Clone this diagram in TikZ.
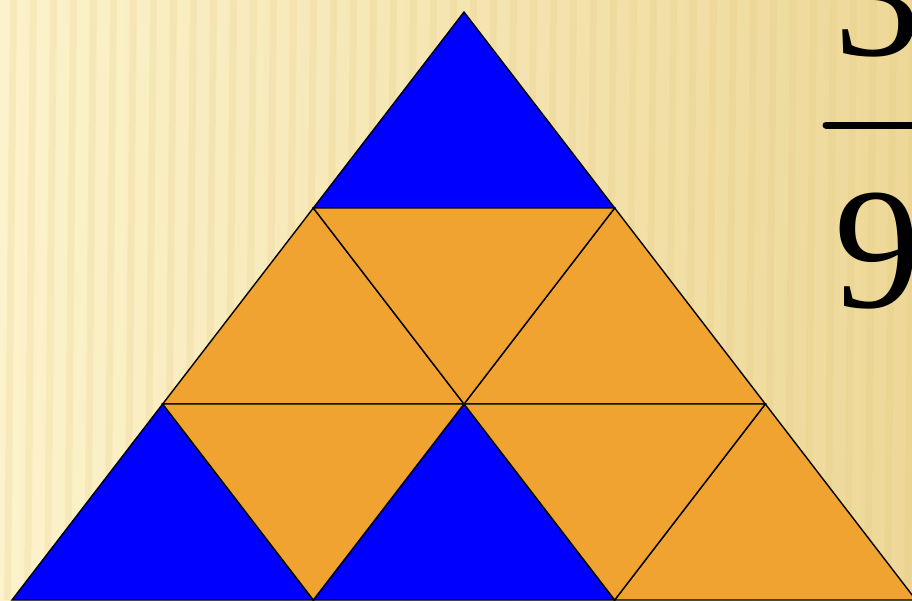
\documentclass[tikz,border=0pt]{standalone}
\usepackage{fontspec}
\setmainfont{Liberation Serif}
\definecolor{bgleft}{HTML}{FDF2CB}
\definecolor{bgright}{HTML}{EDD898}
\definecolor{bgstripe}{HTML}{E2C57A}
\definecolor{triblue}{HTML}{0000FF}
\definecolor{triorange}{HTML}{F0A330}

\begin{document}
\begin{tikzpicture}[x=1pt,y=-1pt,
 bluetri/.style={fill=triblue,draw=black,line width=1.4pt,line join=miter},
 orangetri/.style={fill=triorange,draw=black,line width=1.4pt,line join=miter},
 digit/.style={anchor=base,inner sep=0pt,font=\fontsize{173}{173}\selectfont}]
\useasboundingbox (0,0) rectangle (912,600);
\clip (0,0) rectangle (912,600);
% background
\fill[left color=bgleft,right color=bgright] (0,0) rectangle (912,600);
\foreach \x in {-10,10,...,930}
 \fill[bgstripe,opacity=0.18] (\x,0) -- (\x+7,0) -- (\x+1,600) -- (\x-6,600) -- cycle;
% lattice points of the big triangle
\foreach \r in {0,...,3}{
 \foreach \k in {0,...,\r}{
  \coordinate (p\r\k) at ({464-150.67*\r+301.33*\k},{12+196*\r});
 }
}
% upward triangles
\filldraw[bluetri] (p00) -- (p10) -- (p11) -- cycle;
\filldraw[orangetri] (p10) -- (p20) -- (p21) -- cycle;
\filldraw[orangetri] (p11) -- (p21) -- (p22) -- cycle;
\filldraw[bluetri] (p20) -- (p30) -- (p31) -- cycle;
\filldraw[bluetri] (p21) -- (p31) -- (p32) -- cycle;
\filldraw[orangetri] (p22) -- (p32) -- (p33) -- cycle;
% downward triangles
\filldraw[orangetri] (p10) -- (p11) -- (p21) -- cycle;
\filldraw[orangetri] (p20) -- (p21) -- (p31) -- cycle;
\filldraw[orangetri] (p21) -- (p22) -- (p32) -- cycle;
% fraction
\node[digit] (num) at (878,55) {3};
\node[digit] (den) at (878,307) {9};
\coordinate (barl) at (826,125);
\coordinate (barr) at (930,125);
\draw[line width=7pt,line cap=round] (barl) -- (barr);
\end{tikzpicture}
\end{document}
